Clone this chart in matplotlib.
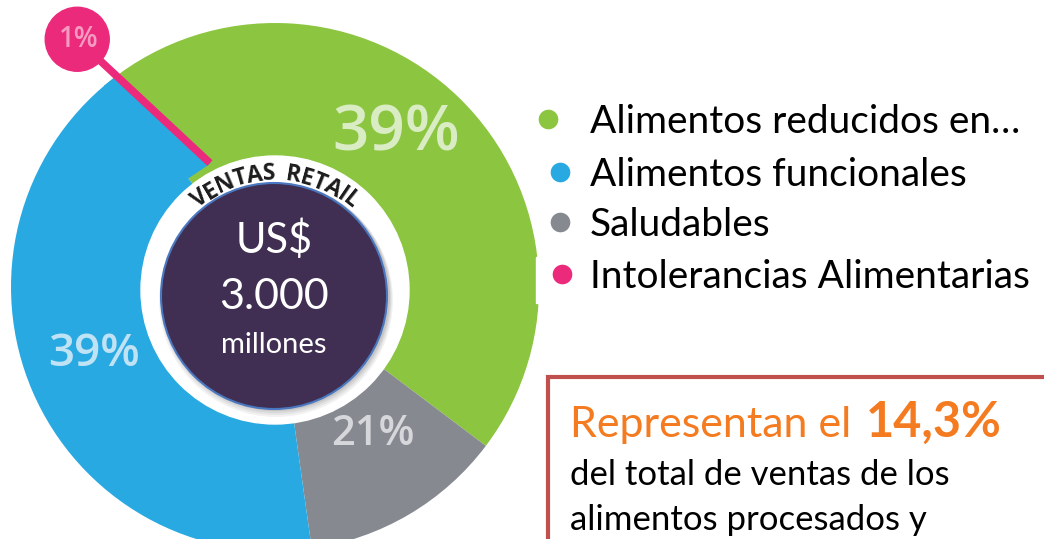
import numpy as np
import matplotlib
matplotlib.use('Agg')
import matplotlib.pyplot as plt
from matplotlib.patches import Circle, Rectangle, Polygon
from matplotlib.font_manager import FontProperties
from matplotlib.textpath import TextToPath

# values
categories = ['Alimentos reducidos en…', 'Alimentos funcionales', 'Saludables', 'Intolerancias Alimentarias']
pct_labels = ['39%', '39%', '21%', '1%']
# angular share of each wedge as drawn (green, gray, blue), clockwise from the pink line
wedge_shares = [46.0, 12.5, 41.5]
wedge_colors = ['#8cc540', '#868990', '#29a9e1']
legend_colors = ['#8cc540', '#29a9e1', '#868990', '#ec2a7c']
total_text = ['US$', '3.000', 'millones']
ring_text = 'VENTAS  RETAIL'
note_head = 'Representan el '
note_value = '14,3%'
note_lines = ['del total de ventas de los', 'alimentos procesados y']

plt.rcParams['font.family'] = ['Lato', 'DejaVu Sans']

H = 539
fig = plt.figure(figsize=(10.44, 5.39), dpi=100)
ax = fig.add_axes([0, 0, 1, 1])

cx, cy, R = 275, H - 287, 264
start = 128.6
wedges, _ = ax.pie(wedge_shares, colors=wedge_colors, startangle=start, counterclock=False,
                   center=(cx, cy), radius=R, wedgeprops=dict(linewidth=0))
ax.set_xlim(0, 1044)
ax.set_ylim(0, H)
ax.set_aspect('auto')
ax.axis('off')

# pink 1% marker and its stick (the stick leans off the radius, blue follows it)
pa = np.radians(start)
px, py = cx + 317 * np.cos(pa), cy + 317 * np.sin(pa)
ia = np.radians(117.7)
ix, iy = cx + 140 * np.cos(ia), cy + 140 * np.sin(ia)
qx, qy = cx + 140 * np.cos(pa + 0.03), cy + 140 * np.sin(pa + 0.03)
ox, oy = cx + 330 * np.cos(pa + 0.03), cy + 330 * np.sin(pa + 0.03)
fill = Polygon([(px, py), (ix, iy), (qx, qy), (ox, oy)], closed=True,
               facecolor=wedge_colors[2], edgecolor=wedge_colors[2], lw=1, zorder=2)
ax.add_patch(fill)
fill.set_clip_path(Circle((cx, cy), R, transform=ax.transData))
ax.plot([px, ix], [py, iy], color=legend_colors[3], lw=5.5, solid_capstyle='butt', zorder=2.5)
ax.add_patch(Circle((px, py), 32, color=legend_colors[3], zorder=6))
ax.text(px + 2, py, pct_labels[3], color='#f59bc1', fontsize=20, family='Open Sans',
        weight='semibold', ha='center', va='center', zorder=7)

# white ring and dark centre with a soft shadow
ax.add_patch(Circle((275, H - 290), 134, color='white', zorder=3))
for i, a in enumerate([0.05, 0.05, 0.06, 0.08]):
    ax.add_patch(Circle((276, H - 300 + i), 117 - i, color='black', alpha=a, lw=0, zorder=3))
dx, dy, dr = 274, H - 296, 113
ax.add_patch(Circle((dx, dy), dr, facecolor='#402f52', edgecolor='#4a78c0', lw=1.5, zorder=4))

ax.text(dx, H - 240, total_text[0], color='white', fontsize=30, ha='center', va='center', zorder=5)
ax.text(dx, H - 297, total_text[1], color='white', fontsize=31, ha='center', va='center', zorder=5)
ax.text(dx, H - 345, total_text[2], color='white', fontsize=21, ha='center', va='center', zorder=5)

# curved "VENTAS RETAIL"
fp = FontProperties(family='Open Sans', weight='bold', size=16.5)
t2p = TextToPath()
widths = [t2p.get_text_width_height_descent(ch, fp, ismath=False)[0] * 100 / 72 for ch in ring_text]
rr = 116
span = np.radians(76) * rr + (widths[0] + widths[-1]) / 2
spacing = (span - sum(widths)) / (len(ring_text) - 1)
s = -span / 2
for ch, w in zip(ring_text, widths):
    mid = s + w / 2
    th = np.radians(89.5) - mid / rr
    ax.text(dx + rr * np.cos(th), dy + rr * np.sin(th), ch, fontproperties=fp, color='#1c1c1c',
            rotation=np.degrees(th) - 90, rotation_mode='anchor', ha='center', va='baseline', zorder=5)
    s += w + spacing

# percentage labels on wedges
lab_kw = dict(family='Open Sans', weight='semibold', ha='center', va='center', zorder=5)
ax.text(396, H - 134, pct_labels[0], color='#d9ecc4', fontsize=46, **lab_kw)
ax.text(94, H - 355, pct_labels[1], color='#c0e2f5', fontsize=33, **lab_kw)
ax.text(373, H - 434, pct_labels[2], color='#d6d7da', fontsize=30, **lab_kw)

# legend
ax.add_patch(Rectangle((536, H - 303), 8, 46, color='white', zorder=5))
leg_x = [548, 560, 560, 562]
leg_y = [119, 172, 222, 274]
for c, lab, mx, my in zip(legend_colors, categories, leg_x, leg_y):
    ax.scatter([mx], [H - my], s=200, color=c, lw=0, zorder=6)
    ax.text(590, H - my - 14, lab, fontsize=28, color='black', va='baseline', ha='left', zorder=6)

# note box
ax.add_patch(Rectangle((548, H - 600), 520, 600 - 377, facecolor='white', edgecolor='#c0504d',
                       lw=3, zorder=6))
t = ax.text(570, H - 437, note_head, color='#f47b20', fontsize=31, va='baseline', ha='left', zorder=7)
fig.canvas.draw()
bb = t.get_window_extent()
ax.text(bb.x1 + 4, H - 437, note_value, color='#f47b20', fontsize=35, weight='bold',
        va='baseline', ha='left', zorder=7)
ax.text(570, H - 485, note_lines[0], color='black', fontsize=25, va='baseline', ha='left', zorder=7)
ax.text(570, H - 530, note_lines[1], color='black', fontsize=25, va='baseline', ha='left', zorder=7)

fig.savefig('out.png', dpi=100)
